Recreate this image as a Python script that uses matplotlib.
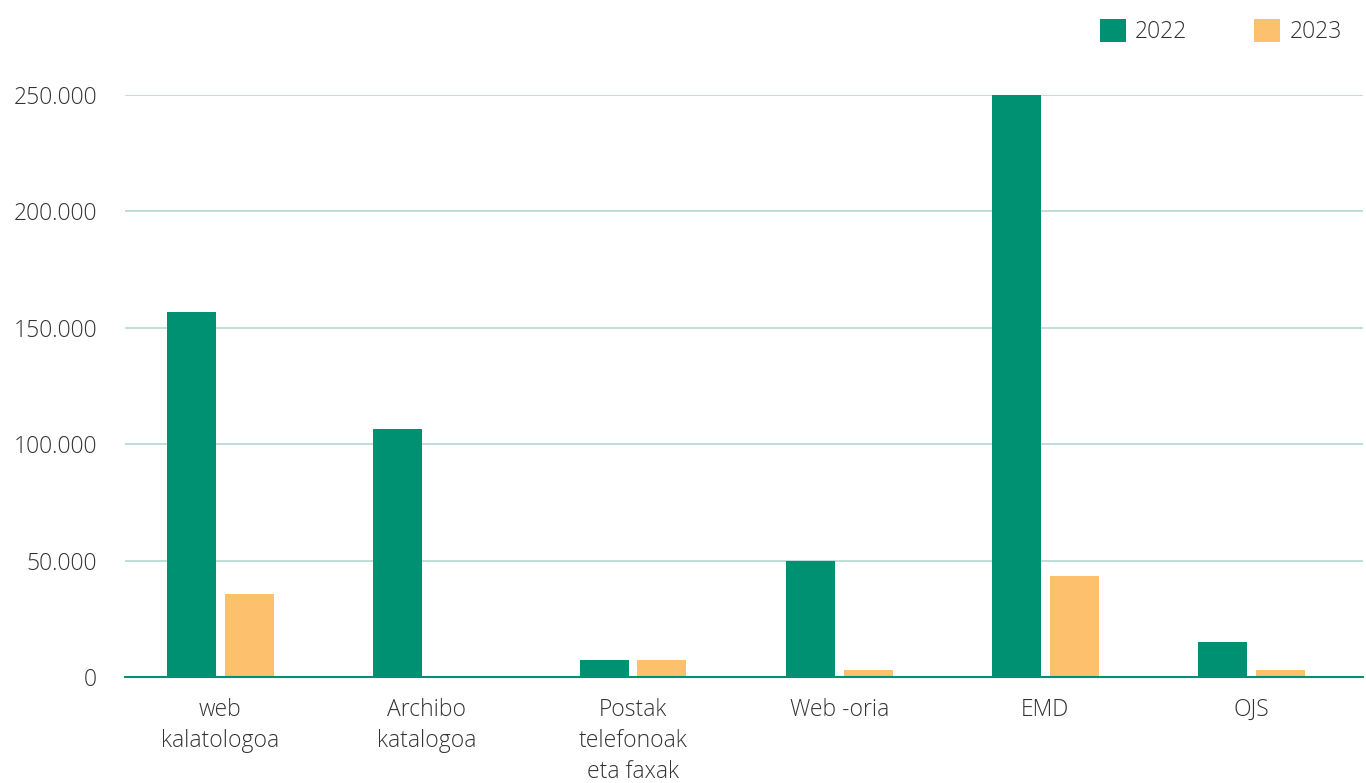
import matplotlib
matplotlib.use("Agg")
import matplotlib.pyplot as plt
from matplotlib.ticker import FuncFormatter
import numpy as np

categories = ["web\nkalatologoa", "Archibo\nkatalogoa", "Postak\ntelefonoak\neta faxak",
              "Web -oria", "EMD", "OJS"]
series_names = ["2022", "2023"]
values_2022 = [157000, 106500, 7300, 49800, 250000, 15000]
values_2023 = [35500, 0, 7300, 3000, 43400, 3000]

c2022 = "#009172"
c2023 = "#fdc06c"
text_color = "#333333"

plt.rcParams['font.family'] = ['Open Sans', 'DejaVu Sans']

fig = plt.figure(figsize=(13.66, 7.83), dpi=100)
ax = fig.add_axes([125/1366, 1-677/783, (1363-125)/1366, (677-95)/783])

x = np.arange(len(categories))
w = 0.238
off = 0.14
ax.bar(x - off, values_2022, width=w, color=c2022, label=series_names[0], zorder=3)
ax.bar(x + off, values_2023, width=w, color=c2023, label=series_names[1], zorder=3)

ax.set_xlim(-0.463, 5.54)
ax.set_ylim(0, 250000)
ax.set_yticks(np.arange(0, 250001, 50000))
ax.yaxis.set_major_formatter(FuncFormatter(lambda v, p: f"{int(v):,}".replace(",", ".")))
ax.set_xticks(x)
ax.set_xticklabels(categories, linespacing=1.4)

ax.grid(axis='y', color="#b8dcd3", linewidth=1.3, zorder=0)
for s in ["top", "right", "left"]:
    ax.spines[s].set_visible(False)
ax.spines["bottom"].set_color("#009172")
ax.spines["bottom"].set_linewidth(1.5)
ax.spines["bottom"].set_zorder(4)
ax.tick_params(axis='both', length=0, labelsize=16.5, colors=text_color)
ax.tick_params(axis='y', pad=20)
ax.tick_params(axis='x', pad=15)
for lbl in ax.get_xticklabels() + ax.get_yticklabels():
    lbl.set_fontweight('light')

leg = fig.legend(loc='upper right', bbox_to_anchor=(1351/1366, 1-10/783), ncol=2, frameon=False,
                 fontsize=16.5, handlelength=1.15, handleheight=1.15, handletextpad=0.4,
                 columnspacing=2.9, borderaxespad=0)
for t in leg.get_texts():
    t.set_color(text_color)
    t.set_fontweight('light')

fig.savefig("out.png", dpi=100)
